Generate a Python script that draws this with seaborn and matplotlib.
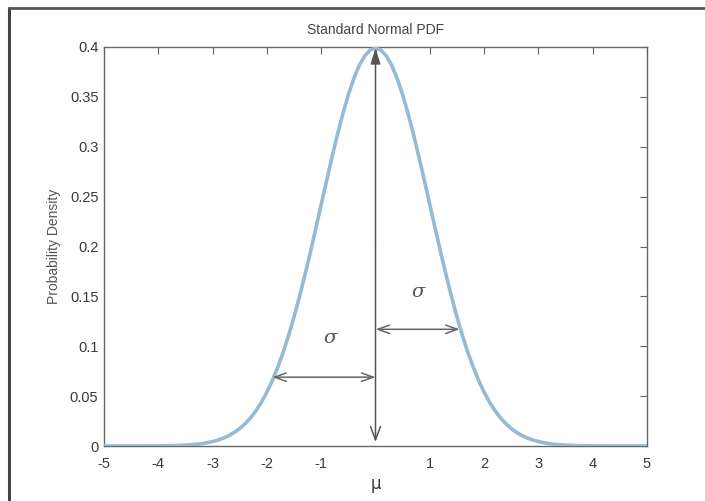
import matplotlib

matplotlib.use("Agg", force=True)
import matplotlib.pyplot as plt
import numpy as np
import pandas as pd
import seaborn as sns

x_tail_left = [-5.0, -4.5, -4.0, -3.6]
y_tail_left = [0.0000, 0.0000, 0.0001, 0.0006]
x_centre = [round(v, 1) for v in np.arange(-3.5, 3.51, 0.1)]
y_right_half = [
    0.3989, 0.3970, 0.3910, 0.3814, 0.3683, 0.3521, 0.3332, 0.3123, 0.2897, 0.2661,
    0.2420, 0.2179, 0.1942, 0.1714, 0.1497, 0.1295, 0.1109, 0.0940, 0.0790, 0.0656,
    0.0540, 0.0440, 0.0355, 0.0283, 0.0224, 0.0175, 0.0136, 0.0104, 0.0079, 0.0060,
    0.0044, 0.0033, 0.0024, 0.0017, 0.0012, 0.0009,
]
y_centre = y_right_half[::-1] + y_right_half[1:]
x_tail_right = [3.6, 4.0, 4.5, 5.0]
y_tail_right = [0.0006, 0.0001, 0.0000, 0.0000]

x_ticks = [-5, -4, -3, -2, -1, 0, 1, 2, 3, 4, 5]
x_tick_labels = ["-5", "-4", "-3", "-2", "-1", "", "1", "2", "3", "4", "5"]
y_ticks = [0, 0.05, 0.1, 0.15, 0.2, 0.25, 0.3, 0.35, 0.4]
y_tick_labels = ["0", "0.05", "0.1", "0.15", "0.2", "0.25", "0.3", "0.35", "0.4"]

# annotation anchors
mu = 0.0
left_arrow = (-1.9, 0.069)
right_arrow = (1.55, 0.117)
sigma_left = (-0.84, 0.108)
sigma_right = (0.78, 0.154)

df = pd.DataFrame({
    "x": x_tail_left + x_centre + x_tail_right,
    "pdf": y_tail_left + y_centre + y_tail_right,
})

sns.set_theme(style="white")
plt.rcParams["font.family"] = ["Liberation Sans Narrow", "Liberation Sans", "DejaVu Sans"]

fig = plt.figure(figsize=(7.05, 5.01), dpi=100)
ax = fig.add_axes([104 / 705, 1 - 446 / 501, (647 - 104) / 705, (446 - 47) / 501])

sns.lineplot(data=df, x="x", y="pdf", ax=ax, color="#95bad4", linewidth=2.6, zorder=3)

ax.set_xlim(-5, 5)
ax.set_ylim(0, 0.4)
ax.set_xticks(x_ticks)
ax.set_xticklabels(x_tick_labels)
ax.set_yticks(y_ticks)
ax.set_yticklabels(y_tick_labels)
ax.tick_params(direction="in", length=5, width=0.8, color="#666666", labelcolor="#3a3a3a",
               labelsize=10.5, top=True, right=True)
ax.tick_params(axis="x", pad=8)
ax.tick_params(axis="y", pad=4)
for side in ax.spines.values():
    side.set_color("#666666")
    side.set_linewidth(1.0)

ax.set_title("Standard Normal PDF", fontsize=10, color="#444444", pad=9)
ax.set_ylabel("Probability Density", fontsize=10, color="#555555", labelpad=6)
ax.set_xlabel("μ", fontsize=12, color="#3a3a3a", labelpad=3, family=["DejaVu Sans"])

arrow_color = "#555555"
ax.annotate("", xy=(mu, 0.399), xytext=(mu, 0.2),
            arrowprops=dict(arrowstyle="-|>,head_length=0.8,head_width=0.25",
                            color=arrow_color, lw=1.1, shrinkA=0, shrinkB=0))
ax.annotate("", xy=(mu, 0.004), xytext=(mu, 0.2),
            arrowprops=dict(arrowstyle="->,head_length=0.8,head_width=0.3",
                            color=arrow_color, lw=1.1, shrinkA=0, shrinkB=0))
ax.annotate("", xy=left_arrow, xytext=(mu, left_arrow[1]),
            arrowprops=dict(arrowstyle="<->,head_length=0.7,head_width=0.25",
                            color="#666666", lw=1.1, shrinkA=0, shrinkB=0))
ax.annotate("", xy=right_arrow, xytext=(mu, right_arrow[1]),
            arrowprops=dict(arrowstyle="<->,head_length=0.7,head_width=0.25",
                            color="#666666", lw=1.1, shrinkA=0, shrinkB=0))

for pos in (sigma_left, sigma_right):
    ax.text(pos[0], pos[1], "σ", ha="center", va="center", fontsize=14,
            style="italic", color="#555555", family=["DejaVu Serif"])

# scanned page frame
fig.add_artist(plt.Line2D([9 / 705, 9 / 705], [0, 1 - 8 / 501], color="#444444", lw=2.2,
                          transform=fig.transFigure))
fig.add_artist(plt.Line2D([9 / 705, 1], [1 - 8 / 501, 1 - 8 / 501], color="#555555", lw=2.0,
                          transform=fig.transFigure))

fig.savefig("out.png", dpi=100)
